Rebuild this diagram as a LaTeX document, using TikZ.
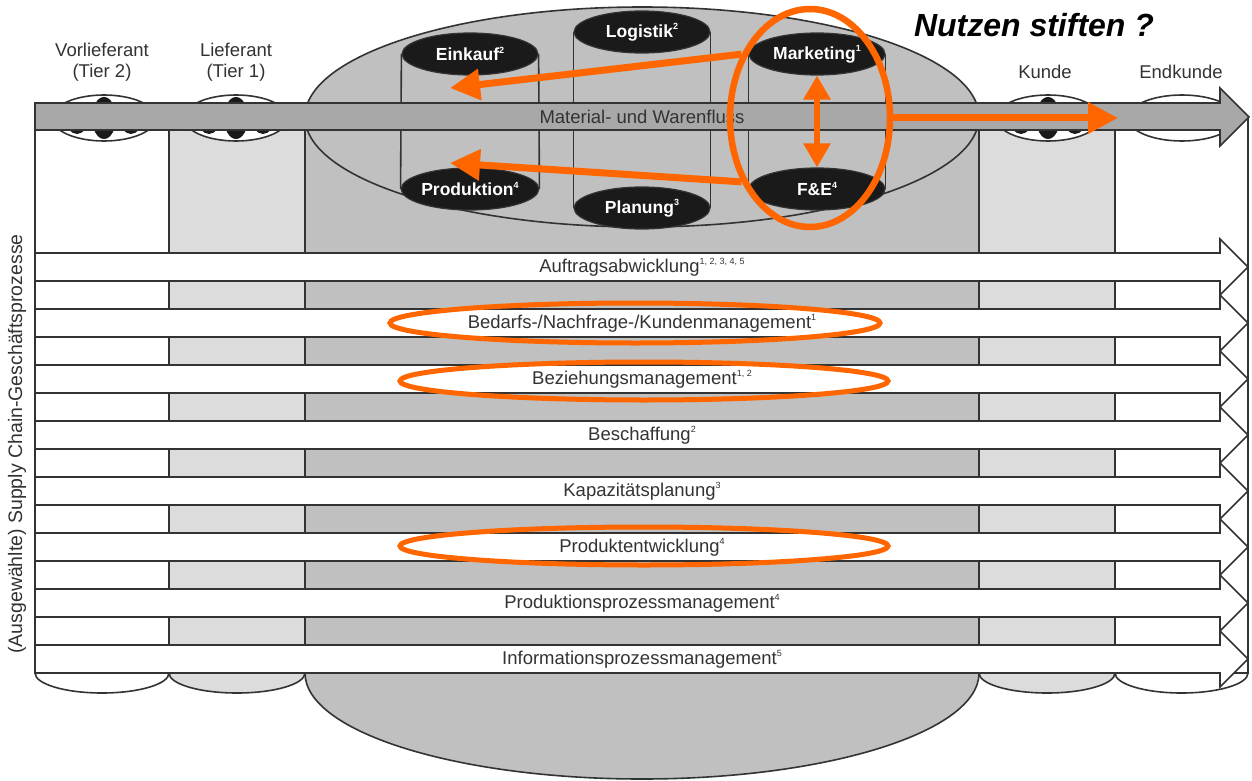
\documentclass[tikz,border=0pt]{standalone}
\usepackage{fontspec}
\setmainfont{Liberation Sans}
\usetikzlibrary{shapes.geometric}
\usetikzlibrary{arrows.meta}

\definecolor{darkline}{HTML}{333333}
\definecolor{lightgrey}{HTML}{DCDCDC}
\definecolor{midgrey}{HTML}{C0C0C0}
\definecolor{bargrey}{HTML}{A8A8A8}
\definecolor{capblack}{HTML}{1A1A1A}
\definecolor{signal}{HTML}{FF6600}

\newcommand{\hoch}[1]{\raisebox{0.85ex}{\fontsize{9}{9}\selectfont #1}}

% one process arrow across all columns
\newcommand{\procrow}[3]{%
  \draw[procarrow] (35,#2) -- (1220,#2) -- (1220,#2-14) -- (1248,#2+14) -- (1220,#2+42) -- (1220,#2+28) -- (35,#2+28) -- cycle;
  \node[proclabel, anchor=base] (#1) at (642,#2+19.5) {#3};}

% top of a small cylinder with the roller pattern
\newcommand{\rollcap}[1]{%
  \draw[edgeline, fill=white] (#1,118) ellipse (52pt and 23pt);
  \fill[capblack] (#1,118) ellipse (12pt and 21pt);
  \fill[capblack] (#1-27,118) ellipse (11pt and 16pt);
  \fill[capblack] (#1+27,118) ellipse (11pt and 16pt);}

\tikzset{
  edgeline/.style={draw=darkline, line width=1.6pt},
  procarrow/.style={edgeline, fill=white, line join=miter},
  proclabel/.style={text=darkline, font=\fontsize{18.5}{21}\selectfont, inner sep=0pt},
  deptcap/.style={ellipse, draw=darkline, line width=1.2pt, fill=capblack, text=white,
    font=\bfseries\fontsize{17.5}{19}\selectfont, minimum width=136pt, minimum height=42pt, inner sep=0pt},
  markring/.style={ellipse, draw=signal, line width=5pt, inner sep=0pt},
  markarrow/.style={draw=signal, line width=7pt, -{Triangle[length=30pt,width=30pt]}},
  markboth/.style={draw=signal, line width=6pt, {Triangle[length=24pt,width=26pt]}-{Triangle[length=24pt,width=26pt]}}
}

\begin{document}
\begin{tikzpicture}[x=1pt,y=-1pt]
    \useasboundingbox[fill=white] (0,0) rectangle (1252,781);

    % cylinder bottoms
    \filldraw[edgeline, fill=white] (35,673) arc[start angle=180, end angle=360, x radius=67pt, y radius=20pt];
    \filldraw[edgeline, fill=lightgrey] (169,673) arc[start angle=180, end angle=360, x radius=68pt, y radius=20pt];
    \filldraw[edgeline, fill=midgrey] (305,673) arc[start angle=180, end angle=360, x radius=337pt, y radius=106pt];
    \filldraw[edgeline, fill=lightgrey] (979,673) arc[start angle=180, end angle=360, x radius=68pt, y radius=20pt];
    \filldraw[edgeline, fill=white] (1115,673) arc[start angle=180, end angle=360, x radius=66.5pt, y radius=20pt];

    % cylinder bodies
    \filldraw[edgeline, fill=white] (35,130) rectangle (169,673);
    \filldraw[edgeline, fill=lightgrey] (169,130) rectangle (305,673);
    \filldraw[edgeline, fill=midgrey] (305,117) rectangle (979,673);
    \filldraw[edgeline, fill=lightgrey] (979,130) rectangle (1115,673);
    \filldraw[edgeline, fill=white] (1115,117) rectangle (1248,673);

    % cylinder tops
    \rollcap{104}
    \rollcap{236}
    \rollcap{1048}
    \draw[edgeline, fill=white] (1182,118) ellipse (54pt and 23pt);
    \filldraw[edgeline, fill=midgrey] (642,117) ellipse (337pt and 110pt);

    % departments inside the company
    \node[deptcap] (einkauf) at (470,54) {Einkauf\hoch{2}};
    \node[deptcap] (logistik) at (642,32) {Logistik\hoch{2}};
    \node[deptcap] (marketing) at (817,54) {Marketing\hoch{1}};
    \node[deptcap] (produktion) at (470,189) {Produktion\hoch{4}};
    \node[deptcap] (planung) at (642,208) {Planung\hoch{3}};
    \node[deptcap] (fe) at (817,189) {F\&E\hoch{4}};
    \draw[edgeline] (einkauf.west) -- (produktion.west);
    \draw[edgeline] (einkauf.east) -- (produktion.east);
    \draw[edgeline] (logistik.west) -- (planung.west);
    \draw[edgeline] (logistik.east) -- (planung.east);
    \draw[edgeline] (marketing.west) -- (fe.west);
    \draw[edgeline] (marketing.east) -- (fe.east);

    % material flow
    \draw[edgeline, fill=bargrey, line join=miter] (35,103) -- (1220,103) -- (1220,88) -- (1249,117) -- (1220,146) -- (1220,130) -- (35,130) -- cycle;
    \node[proclabel, anchor=base] (warenfluss) at (642,124) {Material- und Warenfluss};

    % partners
    \node[proclabel, align=center] (vorlieferant) at (102,62) {Vorlieferant\\(Tier 2)};
    \node[proclabel, align=center] (lieferant) at (236,62) {Lieferant\\(Tier 1)};
    \node[proclabel] (kunde) at (1045,72) {Kunde};
    \node[proclabel] (endkunde) at (1181,72) {Endkunde};
    \node[font=\bfseries\itshape\fontsize{32}{35}\selectfont] (nutzen) at (1034,25) {Nutzen stiften ?};

    % processes
    \procrow{auftrag}{253}{Auftragsabwicklung\hoch{1, 2, 3, 4, 5}}
    \procrow{bedarf}{309}{Bedarfs-/Nachfrage-/Kundenmanagement\hoch{1}}
    \procrow{beziehung}{365}{Beziehungsmanagement\hoch{1, 2}}
    \procrow{beschaffung}{421}{Beschaffung\hoch{2}}
    \procrow{kapazitaet}{477}{Kapazitätsplanung\hoch{3}}
    \procrow{produkt}{533}{Produktentwicklung\hoch{4}}
    \procrow{prodprozess}{589}{Produktionsprozessmanagement\hoch{4}}
    \procrow{infoprozess}{645}{Informationsprozessmanagement\hoch{5}}
    \node[proclabel, font=\fontsize{19.5}{21}\selectfont, rotate=90] (prozesse) at (17,444) {(Ausgewählte) Supply Chain-Geschäftsprozesse};

    % orange marks
    \node[markring, line width=6.5pt, minimum width=160pt, minimum height=218pt] (ring) at (810,118) {};
    \node[markring, minimum width=490pt, minimum height=40pt] (bedarfring) at (635,323) {};
    \node[markring, minimum width=488pt, minimum height=38pt] (beziehungring) at (644,381) {};
    \node[markring, minimum width=488pt, minimum height=38pt] (produktring) at (644,546) {};
    \coordinate (einkaufziel) at (450,88);
    \coordinate (produktionziel) at (450,163);
    \coordinate (kundeziel) at (1118,118);
    \draw[markarrow] (ring.137) -- (einkaufziel);
    \draw[markarrow] (ring.223) -- (produktionziel);
    \draw[markarrow] (ring.east) -- (kundeziel);
    \draw[markboth] (marketing.south) -- (fe.north);
  \end{tikzpicture}
\end{document}
